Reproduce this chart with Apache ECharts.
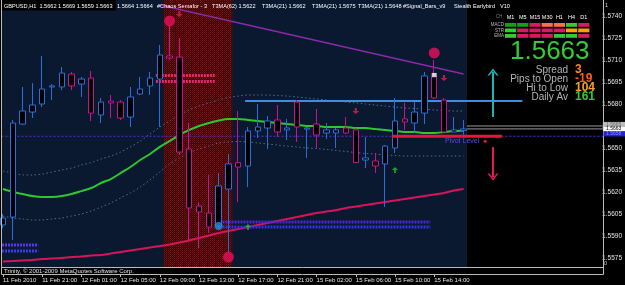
<!DOCTYPE html>
<html><head><meta charset="utf-8">
<script src="https://cdn.jsdelivr.net/npm/echarts@6/dist/echarts.min.js"></script>
<style>html,body{margin:0;padding:0;background:#000;}#c{width:625px;height:285px;}</style>
</head><body><div id="c"></div>
<script>
// ---------- DATA ----------
const barTimes = ['11 Feb 17:00','11 Feb 18:00','11 Feb 19:00','11 Feb 20:00','11 Feb 21:00','11 Feb 22:00','11 Feb 23:00',
 '12 Feb 00:00','12 Feb 01:00','12 Feb 02:00','12 Feb 03:00','12 Feb 04:00','12 Feb 05:00','12 Feb 06:00','12 Feb 07:00','12 Feb 08:00',
 '12 Feb 09:00','12 Feb 10:00','12 Feb 11:00','12 Feb 12:00','12 Feb 13:00','12 Feb 14:00','12 Feb 15:00','12 Feb 16:00','12 Feb 17:00',
 '12 Feb 18:00','12 Feb 19:00','12 Feb 20:00','12 Feb 21:00','12 Feb 22:00',
 '15 Feb 00:00','15 Feb 01:00','15 Feb 02:00','15 Feb 03:00','15 Feb 04:00','15 Feb 05:00','15 Feb 06:00','15 Feb 07:00','15 Feb 08:00',
 '15 Feb 09:00','15 Feb 10:00','15 Feb 11:00','15 Feb 12:00','15 Feb 13:00','15 Feb 14:00','15 Feb 15:00','15 Feb 16:00','15 Feb 17:00'];
const opens  = [1.55975,1.56029,1.56663,1.56745,1.5680,1.56916,1.56916,1.57004,1.56936,1.56977,1.56725,1.5682,1.56813,1.56711,1.56868,1.56923,
 1.5697,1.57127,1.5712,1.56493,1.56104,1.56056,1.55968,1.5622,1.5640,1.56377,1.56616,1.56636,1.56691,1.56623,
 1.56813,1.56629,1.56663,1.56602,1.56602,1.56636,1.56623,1.56418,1.56411,1.56391,1.565,1.56698,1.5667,1.56738,1.56984,1.56827,1.56609,1.5662];
const highs  = [1.5605,1.56691,1.56916,1.56943,1.57127,1.56936,1.57052,1.57018,1.56984,1.57025,1.56841,1.56861,1.56827,1.56916,1.56984,1.57018,
 1.57202,1.57339,1.5725,1.5667,1.56131,1.56316,1.56329,1.56459,1.56752,1.56643,1.5680,1.56718,1.56793,1.56698,
 1.56827,1.56643,1.56766,1.5667,1.56636,1.56711,1.56636,1.56575,1.56466,1.5652,1.56841,1.56807,1.56813,1.57018,1.5710,1.56841,1.56711,1.5669];
const lows   = [1.55954,1.55872,1.56657,1.56704,1.56779,1.56827,1.56895,1.56895,1.56848,1.56684,1.5667,1.56704,1.56691,1.56643,1.56861,1.56861,
 1.56643,1.5710,1.56452,1.55872,1.55815,1.5592,1.55947,1.5579,1.56131,1.56234,1.56568,1.56493,1.56575,1.56554,
 1.56541,1.56432,1.565,1.56561,1.565,1.56595,1.56397,1.56363,1.56329,1.56097,1.56466,1.56623,1.56602,1.56663,1.56834,1.56602,1.56609,1.5659];
const closes = [1.56022,1.5667,1.56752,1.56793,1.56902,1.56923,1.57011,1.56923,1.5697,1.56738,1.56813,1.56807,1.56704,1.56848,1.56902,1.56977,
 1.57134,1.57114,1.56472,1.56091,1.56063,1.55961,1.56241,1.56391,1.5637,1.56616,1.56643,1.56684,1.56609,1.56636,
 1.56643,1.56636,1.56588,1.56623,1.56623,1.56602,1.5640,1.56432,1.56377,1.56513,1.56684,1.56677,1.56745,1.56991,1.56841,1.56609,1.56623,1.5663];
const t3ma21 = [1.5622,1.5620,1.56186,1.56172,1.56166,1.56166,1.56172,1.56186,1.56206,1.56227,1.56261,1.56288,1.56329,1.5637,1.56418,1.56459,
 1.56507,1.56547,1.56588,1.56623,1.5665,1.5667,1.56687,1.56698,1.56698,1.56691,1.56684,1.56677,1.5667,1.56663,
 1.56657,1.5665,1.5665,1.56643,1.56643,1.56643,1.56636,1.56636,1.56629,1.56623,1.56616,1.56609,1.56609,1.56602,1.56602,1.56609,1.56616,1.5662];
const t3maUpper = [1.56343,1.56329,1.56316,1.56316,1.56322,1.56336,1.5635,1.56363,1.56384,1.5640,1.56425,1.56445,1.56472,1.56507,1.56547,1.56595,
 1.56643,1.56684,1.56725,1.56759,1.56786,1.56807,1.56827,1.56844,1.56854,1.56861,1.56861,1.56861,1.56858,1.56854,
 1.56848,1.56841,1.56834,1.56827,1.5682,1.56813,1.56807,1.5680,1.56793,1.56786,1.56779,1.56773,1.56769,1.56766,1.56759,1.56755,1.56752,1.56752];
const t3maLower = [1.56036,1.56022,1.56016,1.56009,1.56009,1.56016,1.56022,1.56036,1.5605,1.5607,1.56097,1.56125,1.56159,1.56193,1.56234,1.56282,
 1.56336,1.56391,1.56432,1.56466,1.56493,1.56513,1.56534,1.56541,1.56544,1.56541,1.56534,1.56527,1.5652,1.56513,
 1.56507,1.565,1.56496,1.5649,1.56483,1.56476,1.56469,1.56462,1.56459,1.56452,1.56449,1.56445,1.56445,1.56445,1.56445,1.56445,1.56445,1.56445];
const t3ma62 = [1.55726,1.55729,1.55733,1.55736,1.55743,1.55746,1.5575,1.55756,1.5576,1.55767,1.5577,1.5578,1.5579,1.55801,1.55811,1.55821,
 1.55831,1.55842,1.55855,1.55869,1.55886,1.55903,1.5592,1.55934,1.55947,1.55961,1.55975,1.55988,1.56002,1.56016,
 1.56029,1.56043,1.56056,1.56067,1.56077,1.56091,1.56101,1.56111,1.56121,1.56131,1.56142,1.56152,1.56162,1.56172,1.56183,1.56193,1.5621,1.5622];
const trendLine = [[16, 1.57475], [47, 1.57004]];
const pivotPrice = 1.5658, pivotFrom = 39.7, pivotTo = 50.9;
const blueLevel = 1.5682, blueFrom = 24.7, blueTo = 53;
const askPrice = 1.5665, bidPrice = 1.5663;
const semaphoreBig = [[17, 1.57366], [23, 1.55756], [44, 1.57148]];
const semaphoreSmall = [[22, 1.55968]];
const signalUp = [[25, 1.55961], [40, 1.5635]];
const signalDown = [[18, 1.57414], [36, 1.56752], [45, 1.56977]];
const whiteMark = [[44, 1.56998]];
const waveBands = [
  {from: -0.1, to: 3.6, prices: [1.55838, 1.55797], colors: ['#5a36e8', '#3a3af0']},
  {from: 22.4, to: 43.6, prices: [1.55995, 1.55961], colors: ['#4a28d8', '#3232e8']},
  {from: 15.6, to: 21.6, prices: [1.56994, 1.56953], colors: ['#e02a6c', '#e02a6c']}
];
const sessionNavy = [-1, 47.35];
const sessionRed = [16.4, 23.4];
const bigUpArrow = [[50, 1.56711], [50, 1.57018]];
const bigDownArrow = [[50, 1.56507], [50, 1.56302]];
const tickLabels = ['11 Feb 2010','11 Feb 21:00','12 Feb 01:00','12 Feb 05:00','12 Feb 09:00','12 Feb 13:00',
 '12 Feb 17:00','12 Feb 21:00','15 Feb 02:00','15 Feb 06:00','15 Feb 10:00','15 Feb 14:00'];
const priceTicks = [1.5575,1.5590,1.5605,1.5620,1.5635,1.5650,1.5665,1.5680,1.5695,1.5710,1.5725,1.5740];
const titleChunks = [
  ['GBPUSD,H1  1.5662 1.5669 1.5659 1.5663', 4],
  ['1.5664 1.5664', 117], ['#Chaos Semafor - 3', 157], ['T3MA(62) 1.5622', 212], ['T3MA(21) 1.5662', 262],
  ['T3MA(21) 1.5675', 312], ['T3MA(21) 1.5648', 358], ['#Signal_Bars_v9', 403], ['Stealth Earlybird', 454], ['V10', 500]
];
const tfLabels = ['M1','M5','M15','M30','H1','H4','D1'];
const rowLabels = ['MACD','STR','EMA'];
const C_DG='#14a014', C_G='#34cc34', C_P='#d81a62', C_O='#ff7046', C_A='#ffa000';
const signalColors = [
  [C_DG, C_DG, C_P, C_O, C_O, C_G, C_P],
  [C_G, C_P, C_P, C_P, C_P, C_A, C_A],
  [C_G, C_P, C_P, C_P, C_G, C_G, C_P]
];
const statLabels = ['Spread','Pips to Open','Hi to Low','Daily Av'];
const statValues = ['3','-19','104','161'];
const statColors = ['#ff8a14','#ff5a22','#ffa020','#34cc34'];

// ---------- CHART ----------
const X_MIN = -0.153, X_MAX = 61.225;
const Y_MIN = 1.55685, Y_MAX = 1.57509;
const FONT = '"Liberation Sans", Arial, sans-serif';
const idx = opens.map((_, i) => i);
const candleData = idx.map(i => [i, opens[i], closes[i], lows[i], highs[i]]);
const toPts = arr => arr.map((v, i) => [i, v]);

const pc = document.createElement('canvas'); pc.width = 2; pc.height = 2;
const g = pc.getContext('2d');
g.fillStyle = '#360505'; g.fillRect(0, 0, 2, 2);
g.fillStyle = '#7a1212'; g.fillRect(0, 0, 1, 1);
g.fillStyle = '#5a0c0c'; g.fillRect(1, 1, 1, 1);

const ARROW_UP = 'path://M5,0 L10,5 L6.5,5 L6.5,10 L3.5,10 L3.5,5 L0,5 Z';
const ARROW_DOWN = 'path://M3.5,0 L6.5,0 L6.5,5 L10,5 L5,10 L0,5 L3.5,5 Z';
const CHEVRON = 'path://M0,7 L5,0 L10,7 L8.3,7 L5,2.4 L1.7,7 Z';

function lineSeries(data, style, z, extra) {
  return Object.assign({type: 'line', xAxisIndex: 0, yAxisIndex: 0, data: data, symbol: 'none',
    silent: true, z: z, lineStyle: style}, extra || {});
}

const series = [
  {type: 'line', xAxisIndex: 0, yAxisIndex: 0, data: [], z: 1, silent: true,
   markArea: {silent: true, data: [
     [{xAxis: sessionNavy[0], itemStyle: {color: '#0a1830'}}, {xAxis: sessionNavy[1]}]
   ]}},
  {type: 'line', xAxisIndex: 0, yAxisIndex: 0, data: [], z: 2, silent: true,
   markArea: {silent: true, data: [
     [{xAxis: sessionRed[0], itemStyle: {color: {image: pc, repeat: 'repeat'}}}, {xAxis: sessionRed[1]}]
   ]}},
  lineSeries(toPts(t3maUpper), {color: '#566a8c', width: 1, type: [1.5, 2.5]}, 3, {smooth: 0.3}),
  lineSeries(toPts(t3maLower), {color: '#566a8c', width: 1, type: [1.5, 2.5]}, 3, {smooth: 0.3}),
  lineSeries(toPts(t3ma62), {color: '#d8145a', width: 2}, 3, {smooth: 0.3}),
  lineSeries(trendLine, {color: '#8a2aa8', width: 1.5}, 3),
  lineSeries([[X_MIN, pivotPrice], [X_MAX, pivotPrice]], {color: '#5a2ee0', width: 1, type: [2, 2]}, 3),
  lineSeries([[sessionNavy[1], askPrice], [X_MAX, askPrice]], {color: '#9a9a9a', width: 1}, 3),
  lineSeries([[sessionNavy[1], bidPrice], [X_MAX, bidPrice]], {color: '#9a9a9a', width: 1}, 3),
  lineSeries([[blueFrom, blueLevel], [blueTo, blueLevel]], {color: '#3a8ee6', width: 2}, 4),
  lineSeries(toPts(t3ma21), {color: '#2ec82e', width: 2}, 4, {smooth: 0.3})
];
waveBands.forEach(w => {
  w.prices.forEach((p, k) => series.push(lineSeries([[w.from, p], [w.to, p]], {color: w.colors[k], width: 3, type: [2, 1]}, 4)));
});
series.push({
  type: 'candlestick', xAxisIndex: 0, yAxisIndex: 0, data: candleData, barWidth: 6, z: 6, silent: true,
  itemStyle: {color: '#000', color0: '#000', borderColor: '#2a6fd8', borderColor0: '#c4168e', borderWidth: 1}
});
series.push(lineSeries([[pivotFrom, pivotPrice], [pivotTo, pivotPrice]], {color: '#e8163e', width: 3}, 7));
series.push({type: 'scatter', xAxisIndex: 0, yAxisIndex: 0, data: semaphoreBig, symbol: 'circle', symbolSize: 11, z: 8, silent: true, itemStyle: {color: '#e8105c'}});
series.push({type: 'scatter', xAxisIndex: 0, yAxisIndex: 0, data: semaphoreSmall, symbol: 'circle', symbolSize: 8, z: 8, silent: true, itemStyle: {color: '#2090e0'}});
series.push({type: 'scatter', xAxisIndex: 0, yAxisIndex: 0, data: signalUp, symbol: ARROW_UP, symbolSize: [6, 6], z: 8, silent: true, itemStyle: {color: '#22c422'}});
series.push({type: 'scatter', xAxisIndex: 0, yAxisIndex: 0, data: signalDown, symbol: ARROW_DOWN, symbolSize: [7, 6], z: 8, silent: true, itemStyle: {color: '#e0204e'}});
series.push({type: 'scatter', xAxisIndex: 0, yAxisIndex: 0, data: whiteMark, symbol: 'rect', symbolSize: [5, 4], z: 8, silent: true, itemStyle: {color: '#ffffff'}});
series.push({type: 'line', xAxisIndex: 0, yAxisIndex: 0, data: [], z: 9, silent: true,
  markLine: {silent: true, symbol: ['none', CHEVRON], symbolSize: [11, 7], label: {show: false}, animation: false,
    data: [
      [{coord: bigUpArrow[0], lineStyle: {color: '#1cb4b4', width: 2, type: 'solid'}}, {coord: bigUpArrow[1]}],
      [{coord: bigDownArrow[0], lineStyle: {color: '#e4185c', width: 2, type: 'solid'}}, {coord: bigDownArrow[1]}]
    ]}});
series.push({type: 'scatter', xAxisIndex: 1, yAxisIndex: 1, data: [], silent: true});
series.push({type: 'scatter', xAxisIndex: 2, yAxisIndex: 2, data: [], silent: true});

const option = {
  backgroundColor: '#000',
  animation: false,
  grid: [
    {left: 1.5, right: 22, top: 0, bottom: 17.5},
    {left: 1.5, right: 22, top: 16, bottom: 27},
    {left: 3, width: 431.2, top: 0, bottom: 11}
  ],
  xAxis: [
    {gridIndex: 0, type: 'value', min: X_MIN, max: X_MAX, show: false},
    {gridIndex: 1, type: 'value', min: 0, max: 1, show: false},
    {gridIndex: 2, type: 'value', min: 0, max: 44, interval: 4,
     axisLine: {show: false}, splitLine: {show: false},
     axisTick: {show: true, length: 3, lineStyle: {color: '#c0c0b0'}},
     axisLabel: {margin: 3, align: 'left', fontSize: 6, fontFamily: FONT, color: '#e6e6e6',
       showMinLabel: true, showMaxLabel: true, formatter: v => tickLabels[Math.round(v / 4)] || ''}}
  ],
  yAxis: [
    {gridIndex: 0, type: 'value', min: Y_MIN, max: Y_MAX, show: false},
    {gridIndex: 1, type: 'value', position: 'right', min: priceTicks[0], max: priceTicks[priceTicks.length - 1], interval: 0.0015,
     axisLine: {show: false}, splitLine: {show: false},
     axisTick: {show: true, length: 2, lineStyle: {color: '#c0c0b0'}},
     axisLabel: {margin: 3, fontSize: 6.5, fontFamily: FONT, color: '#e6e6e6', showMinLabel: true, showMaxLabel: true,
       formatter: v => v.toFixed(4)}},
    {gridIndex: 2, type: 'value', min: 0, max: 1, show: false}
  ],
  series: series
};

const chart = echarts.init(document.getElementById('c'), null, {renderer: 'canvas'});
chart.setOption(option);

// ---------- overlay texts / frame / dashboard ----------
const px = (x, y) => chart.convertToPixel({gridIndex: 0}, [x, y]);
const gfx = [];
const txt = (text, x, y, size, fill, align, extra) => gfx.push({type: 'text', x: x, y: y, z: 100, silent: true,
  style: Object.assign({text: text, fill: fill, font: size + 'px ' + FONT, align: align || 'left', verticalAlign: 'middle'}, extra || {})});
const rect = (x, y, w, h, fill, z) => gfx.push({type: 'rect', z: z || 95, silent: true, shape: {x: x, y: y, width: w, height: h}, style: {fill: fill}});
const line = (x1, y1, x2, y2, stroke, z) => gfx.push({type: 'line', z: z || 96, silent: true, shape: {x1: x1, y1: y1, x2: x2, y2: y2}, style: {stroke: stroke, lineWidth: 1}});

rect(2, 0, 114, 10.5, '#000', 90);
titleChunks.forEach(c => txt(c[0], c[1], 6, 5.6, '#ffffff'));
const FR = '#bdbdae';
line(1.5, 0, 1.5, 274.5, FR); line(603.5, 0, 603.5, 274.5, FR);
line(1.5, 267.5, 603.5, 267.5, FR); line(1.5, 274.5, 603.5, 274.5, FR);
txt('Trinity, \u00a9 2001-2009 MetaQuotes Software Corp.', 4, 271, 6, '#e0e0e0');
txt('1', 605, 5, 5.5, '#cfcfcf'); txt('0', 604, 263, 5.5, '#cfcfcf');
const bidY = px(0, bidPrice)[1];
rect(603.5, bidY - 7, 22, 4.5, '#bcbcbc', 97); txt(askPrice.toFixed(4), 606, bidY - 4.7, 5, '#6a6a6a');
rect(603.5, bidY - 2.5, 22, 5, '#ffffff', 97); txt(bidPrice.toFixed(4), 606, bidY, 5, '#000000');
rect(603.5, bidY + 2.5, 22, 5, '#2222d8', 97); txt(pivotPrice.toFixed(4), 606, bidY + 5, 5, '#8f8fff');
const pv = px(45.1, pivotPrice);
txt('Pivot Level', pv[0], pv[1] + 5, 7, '#6a44e0');
const pd = px(49.2, pivotPrice);
gfx.push({type: 'circle', z: 100, silent: true, shape: {cx: pd[0], cy: pd[1] + 5, r: 1.6}, style: {fill: '#e8105c'}});
const cx0 = 505, cstep = 12.2, cw = 11.2, ry0 = 23, rstep = 5.5, rh = 3.8;
txt('CH', 499, 17, 4.5, '#777777', 'center');
tfLabels.forEach((t, i) => txt(t, cx0 + cw / 2 + i * cstep, 17, 5.5, '#ffffff', 'center'));
rowLabels.forEach((r, j) => {
  txt(r, 504, ry0 + rh / 2 + j * rstep, 4.5, '#bbbbbb', 'right');
  signalColors[j].forEach((col, i) => rect(cx0 + i * cstep, ry0 + j * rstep, cw, rh, col, 97));
});
txt(closes[closes.length - 1].toFixed(4), 510, 52, 26, '#34cc34', 'left');
statLabels.forEach((s, k) => {
  txt(s, 568, 70 + k * 9, 10, '#b4b4b4', 'right');
  txt(statValues[k], 575, 70 + k * 9, 10, statColors[k], 'left', {fontWeight: 'bold'});
});
chart.setOption({graphic: gfx});
</script>
</body></html>
